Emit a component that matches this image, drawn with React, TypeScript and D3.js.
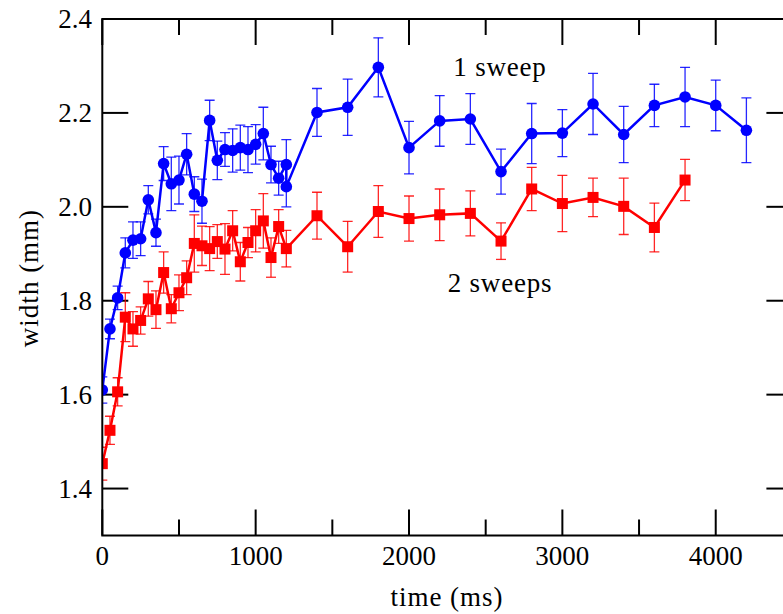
import React from "react";
import * as d3 from "d3";

const W = 783;
const H = 614;

// 1 sweep (blue)
const sweep1Time = [0, 50, 100, 150, 200, 250, 300, 350, 400, 450, 500, 550, 600, 650, 700, 750, 800, 850, 900, 950, 1000, 1050, 1100, 1150, 1200, 1200, 1400, 1600, 1800, 2000, 2200, 2400, 2600, 2800, 3000, 3200, 3400, 3600, 3800, 4000, 4200];
const sweep1Width = [1.61, 1.740, 1.806, 1.902, 1.929, 1.932, 2.015, 1.945, 2.092, 2.049, 2.057, 2.112, 2.027, 2.012, 2.184, 2.099, 2.122, 2.120, 2.126, 2.122, 2.133, 2.156, 2.090, 2.061, 2.090, 2.043, 2.201, 2.212, 2.297, 2.126, 2.183, 2.187, 2.075, 2.156, 2.157, 2.219, 2.154, 2.216, 2.234, 2.216, 2.163];
const sweep1Err = [0.028, 0.021, 0.025, 0.032, 0.039, 0.036, 0.03, 0.029, 0.036, 0.057, 0.051, 0.044, 0.037, 0.047, 0.043, 0.041, 0.036, 0.046, 0.048, 0.049, 0.042, 0.056, 0.039, 0.036, 0.053, 0.043, 0.051, 0.06, 0.063, 0.056, 0.054, 0.054, 0.048, 0.064, 0.05, 0.065, 0.06, 0.045, 0.063, 0.054, 0.069];

// 2 sweeps (red)
const sweep2Time = [0, 50, 100, 150, 200, 250, 300, 350, 400, 450, 500, 550, 600, 650, 700, 750, 800, 850, 900, 950, 1000, 1050, 1100, 1150, 1200, 1400, 1600, 1800, 2000, 2200, 2400, 2600, 2800, 3000, 3200, 3400, 3600, 3800];
const sweep2Width = [1.453, 1.524, 1.606, 1.765, 1.740, 1.758, 1.804, 1.781, 1.860, 1.783, 1.817, 1.849, 1.922, 1.917, 1.911, 1.926, 1.910, 1.949, 1.883, 1.924, 1.949, 1.970, 1.892, 1.958, 1.911, 1.981, 1.915, 1.990, 1.975, 1.983, 1.986, 1.927, 2.038, 2.007, 2.020, 2.001, 1.956, 2.057];
const sweep2Err = [0.035, 0.03, 0.03, 0.052, 0.037, 0.029, 0.037, 0.04, 0.044, 0.03, 0.038, 0.036, 0.061, 0.042, 0.047, 0.036, 0.054, 0.043, 0.041, 0.032, 0.045, 0.058, 0.042, 0.036, 0.039, 0.05, 0.054, 0.055, 0.048, 0.055, 0.048, 0.039, 0.046, 0.06, 0.041, 0.06, 0.052, 0.044];

const xMajorTicks = [0, 1000, 2000, 3000, 4000];
const xMinorTicks = [500, 1500, 2500, 3500];
const yTicks = [1.4, 1.6, 1.8, 2.0, 2.2, 2.4];

const FONT = "Liberation Serif, DejaVu Serif, Times New Roman, serif";

type Pt = { t: number; v: number; e: number };

function zip(t: number[], v: number[], e: number[]): Pt[] {
  return t.map((d, i) => ({ t: d, v: v[i], e: e[i] }));
}

export default function App() {
  const x = d3.scaleLinear().domain([0, 4500]).range([102.3, 792.4]);
  const y = d3.scaleLinear().domain([1.3, 2.4]).range([535.5, 19]);

  const s1 = zip(sweep1Time, sweep1Width, sweep1Err);
  const s2 = zip(sweep2Time, sweep2Width, sweep2Err);

  const line = d3
    .line<Pt>()
    .x((d) => x(d.t))
    .y((d) => y(d.v));

  const left = x(0);
  const right = x(4500);
  const top = y(2.4);
  const bottom = y(1.3);
  const capHalf = 5;
  const sq = 11;

  const errBars = (pts: Pt[], color: string) =>
    pts.map((d, i) => {
      const cx = x(d.t);
      const y1 = y(d.v + d.e);
      const y2 = y(d.v - d.e);
      return (
        <g key={i} stroke={color} strokeWidth={1.3} strokeOpacity={0.85}>
          <line x1={cx} x2={cx} y1={y1} y2={y2} />
          <line x1={cx - capHalf} x2={cx + capHalf} y1={y1} y2={y1} />
          <line x1={cx - capHalf} x2={cx + capHalf} y1={y2} y2={y2} />
        </g>
      );
    });

  const textStyle: React.CSSProperties = { fontFamily: FONT, fontSize: "27px" };

  return (
    <svg
      width={W}
      height={H}
      style={{ position: "absolute", left: 0, top: 0, background: "#fff" }}
    >
      <defs>
        <clipPath id="plot">
          <rect x={left} y={top} width={right - left} height={bottom - top} />
        </clipPath>
      </defs>
      <rect x={0} y={0} width={W} height={H} fill="#fff" />

      {/* ticks */}
      <g stroke="#000" strokeWidth={2}>
        {xMajorTicks.map((t) => (
          <g key={"xm" + t}>
            <line x1={x(t)} x2={x(t)} y1={bottom} y2={bottom - 26} />
            <line x1={x(t)} x2={x(t)} y1={top} y2={top + 26} />
          </g>
        ))}
        {xMinorTicks.map((t) => (
          <g key={"xn" + t}>
            <line x1={x(t)} x2={x(t)} y1={bottom} y2={bottom - 16} />
            <line x1={x(t)} x2={x(t)} y1={top} y2={top + 16} />
          </g>
        ))}
        {yTicks.map((t) => (
          <g key={"y" + t}>
            <line x1={left} x2={left + 26} y1={y(t)} y2={y(t)} />
            <line x1={right} x2={right - 26} y1={y(t)} y2={y(t)} />
          </g>
        ))}
      </g>

      <g clipPath="url(#plot)">
        {/* blue series */}
        {errBars(s1, "#0000ff")}
        <path d={line(s1) || ""} fill="none" stroke="#0000ff" strokeWidth={2.5} strokeLinejoin="miter" />
        {s1.map((d, i) => (
          <circle key={i} cx={x(d.t)} cy={y(d.v)} r={5.8} fill="#0000ff" />
        ))}

        {/* red series */}
        {errBars(s2, "#ff0000")}
        <path d={line(s2) || ""} fill="none" stroke="#ff0000" strokeWidth={2.5} strokeLinejoin="miter" />
        {s2.map((d, i) => (
          <rect key={i} x={x(d.t) - sq / 2} y={y(d.v) - sq / 2} width={sq} height={sq} fill="#ff0000" />
        ))}
      </g>

      {/* frame */}
      <rect x={left} y={top} width={right - left} height={bottom - top} fill="none" stroke="#000" strokeWidth={2} />

      {/* tick labels */}
      <g style={textStyle} fill="#000">
        {yTicks.map((t) => (
          <text key={"yl" + t} x={92} y={y(t) + 9} textAnchor="end" style={textStyle}>
            {t.toFixed(1)}
          </text>
        ))}
        {xMajorTicks.map((t) => (
          <text key={"xl" + t} x={x(t)} y={565} textAnchor="middle" style={textStyle}>
            {String(t)}
          </text>
        ))}
        <text x={447} y={606} textAnchor="middle" letterSpacing={1} style={textStyle}>
          time (ms)
        </text>
        <text transform="translate(38,278) rotate(-90)" textAnchor="middle" letterSpacing={1} style={textStyle}>
          width (mm)
        </text>
        <text x={500} y={76} textAnchor="middle" letterSpacing={0.8} style={textStyle}>
          1 sweep
        </text>
        <text x={500} y={292} textAnchor="middle" letterSpacing={0.8} style={textStyle}>
          2 sweeps
        </text>
      </g>
    </svg>
  );
}
